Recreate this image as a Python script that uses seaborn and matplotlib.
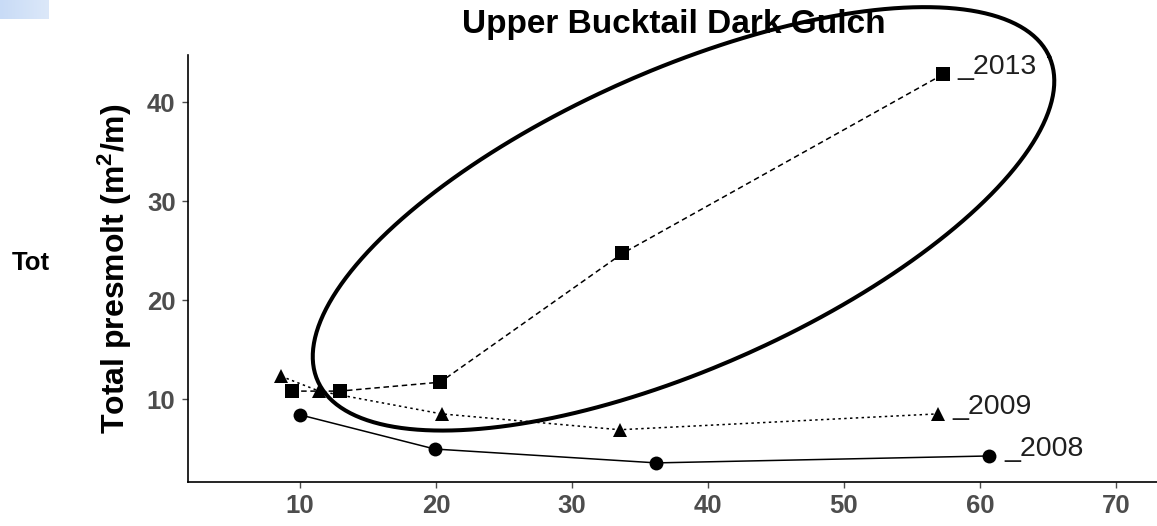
import numpy as np
import pandas as pd
import matplotlib
matplotlib.use("Agg")
import matplotlib.pyplot as plt
from matplotlib.colors import LinearSegmentedColormap
import seaborn as sns

# Presmolt habitat series for Upper Bucktail Dark Gulch
years_2008_x = [10.0, 19.9, 36.2, 60.7]
years_2008_y = [8.4, 4.95, 3.55, 4.25]
years_2009_x = [8.6, 11.4, 20.4, 33.5, 56.9]
years_2009_y = [12.3, 10.8, 8.5, 6.9, 8.5]
years_2013_x = [9.4, 12.9, 20.3, 33.7, 57.3]
years_2013_y = [10.8, 10.8, 11.7, 24.7, 42.8]
year_names = ["2008", "2009", "2013"]
x_ticks = [10, 20, 30, 40, 50, 60, 70]
y_ticks = [10, 20, 30, 40]

df = pd.concat([
    pd.DataFrame({"x": years_2008_x, "y": years_2008_y, "year": "2008"}),
    pd.DataFrame({"x": years_2009_x, "y": years_2009_y, "year": "2009"}),
    pd.DataFrame({"x": years_2013_x, "y": years_2013_y, "year": "2013"}),
], ignore_index=True)

sns.set_theme(style="ticks")
plt.rcParams["font.family"] = ["Liberation Sans", "DejaVu Sans"]
plt.rcParams["mathtext.fontset"] = "custom"
plt.rcParams["mathtext.bf"] = "Liberation Sans:bold"
plt.rcParams["mathtext.rm"] = "Liberation Sans"
plt.rcParams["mathtext.default"] = "bf"

W, H, DPI = 1157, 526, 100
fig = plt.figure(figsize=(W / DPI, H / DPI), dpi=DPI)
fig.patch.set_facecolor("white")

ax = fig.add_axes([188 / W, 44.3 / H, 972 / W, 426.7 / H])

sns.lineplot(
    data=df, x="x", y="y", style="year", color="black",
    markers={"2008": "o", "2009": "^", "2013": "s"},
    dashes={"2008": "", "2009": (1.6, 2.2), "2013": (3.6, 2.4)},
    markersize=10, markeredgewidth=0, linewidth=1.1,
    sort=False, legend=False, ax=ax,
)

# year labels next to the final point of each series
for name, xs, ys in [("2008", years_2008_x, years_2008_y),
                     ("2009", years_2009_x, years_2009_y),
                     ("2013", years_2013_x, years_2013_y)]:
    ax.annotate("_" + name, (xs[-1], ys[-1]), xytext=(10.5, 0),
                textcoords="offset points", ha="left", va="baseline",
                fontsize=20.5, color="#1f1f1f", annotation_clip=False)

# highlight ring around the 2013 rise
t = np.linspace(0, 2 * np.pi, 400)
ex = 38.2 + 26.91 * np.cos(t) + 4.44 * np.sin(t)
ey = 28.2 + 16.37 * np.cos(t) - 13.76 * np.sin(t)
ax.plot(ex, ey, color="black", lw=2.9, clip_on=False, zorder=5)

ax.set_xlim(1.75, 73.25)
ax.set_ylim(1.65, 44.75)
ax.set_xticks(x_ticks)
ax.set_yticks(y_ticks)
ax.set_xlabel("")
ax.set_ylabel(r"Total presmolt (m$^{2}$/m)", fontsize=23, fontweight="bold",
              color="black", va="center")
ax.yaxis.set_label_coords((115 - 188) / 972, 0.5)
ax.set_title("Upper Bucktail Dark Gulch", fontsize=24, fontweight="bold",
             color="black", pad=15.5)

for lab in ax.get_xticklabels() + ax.get_yticklabels():
    lab.set_fontweight("bold")
    lab.set_color("#4d4d4d")
    lab.set_fontsize(18.5)
ax.tick_params(axis="both", length=4, width=1.0, color="#4d4d4d")
ax.tick_params(axis="x", pad=5)
ax.tick_params(axis="y", pad=5)
sns.despine(ax=ax)
for s in ("left", "bottom"):
    ax.spines[s].set_linewidth(1.2)
    ax.spines[s].set_color("black")

# fragment of the neighbouring panel's label
fig.text(12 / W, 1 - 270 / H, "Tot", fontsize=18.5, fontweight="bold",
         color="black", ha="left", va="baseline")

# small light-blue tab in the top-left corner
tab = fig.add_axes([0, 1 - 19.5 / H, 49 / W, 19.5 / H])
grad = np.linspace(0, 1, 64).reshape(1, -1)
cmap = LinearSegmentedColormap.from_list("tab", ["#c8dbf6", "#dce8f9"])
tab.imshow(grad, aspect="auto", cmap=cmap, extent=(0, 1, 0, 1))
tab.set_axis_off()

fig.savefig("out.png", dpi=DPI)
